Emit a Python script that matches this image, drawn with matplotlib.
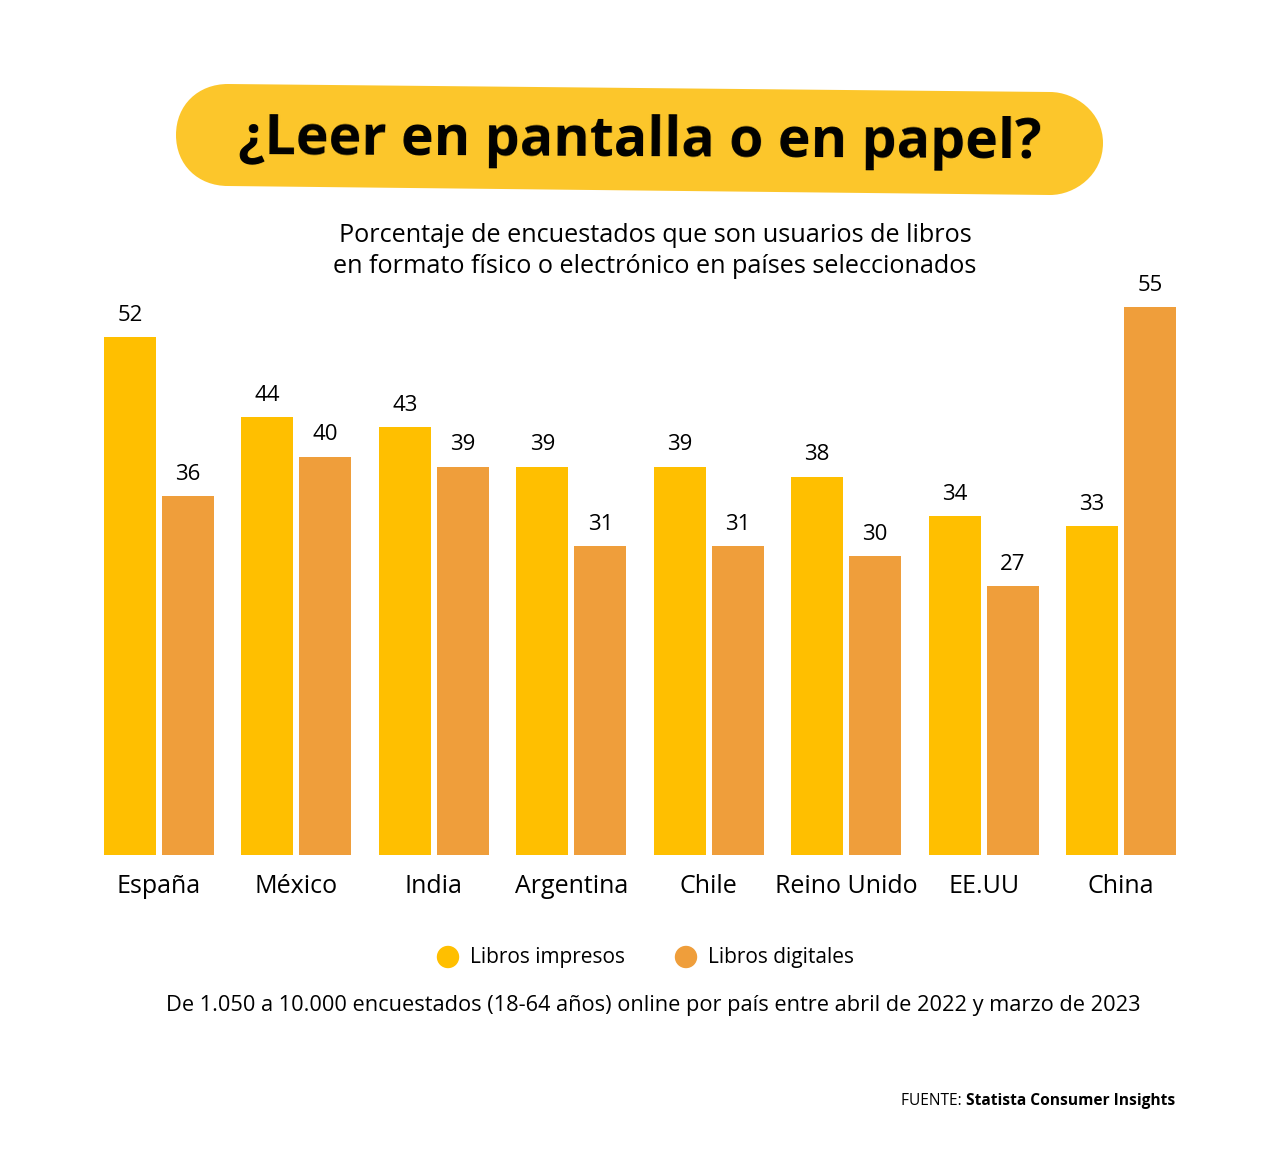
import matplotlib.pyplot as plt
import numpy as np
from matplotlib.patches import PathPatch, Circle
from matplotlib.path import Path

# datos del gráfico
paises = ["España", "México", "India", "Argentina", "Chile", "Reino Unido", "EE.UU", "China"]
impresos = [52, 44, 43, 39, 39, 38, 34, 33]
digitales = [36, 40, 39, 31, 31, 30, 27, 55]

AMARILLO = "#FFBF00"
NARANJA = "#EF9E3B"
PILL = "#FCC62B"
FONT = "Open Sans"

W, H = 1280, 1150
fig = plt.figure(figsize=(W / 100, H / 100), dpi=100)

# capa de fondo en píxeles para decoración y textos
bg = fig.add_axes([0, 0, 1, 1])
bg.set_xlim(0, W)
bg.set_ylim(H, 0)
bg.axis("off")

# píldora del título (ligeramente inclinada), extremos con curvas cúbicas
verts = [
    (228, 84), (1050, 92),
    (1075, 92), (1103, 112), (1103, 143),
    (1103, 175), (1075, 195), (1050, 195),
    (228, 186),
    (198, 186), (176, 165), (176, 135),
    (176, 105), (198, 84), (228, 84),
]
codes = [Path.MOVETO, Path.LINETO,
         Path.CURVE4, Path.CURVE4, Path.CURVE4,
         Path.CURVE4, Path.CURVE4, Path.CURVE4,
         Path.LINETO,
         Path.CURVE4, Path.CURVE4, Path.CURVE4,
         Path.CURVE4, Path.CURVE4, Path.CURVE4]
bg.add_patch(PathPatch(Path(verts, codes), facecolor=PILL, edgecolor="none"))
bg.text(640, 142, "¿Leer en pantalla o en papel?", ha="center", va="center",
        fontsize=40, fontweight="bold", family=FONT, color="black", rotation=-0.3)

bg.text(655, 251, "Porcentaje de encuestados que son usuarios de libros\n"
        "en formato físico o electrónico en países seleccionados",
        ha="center", va="center", fontsize=18.2, family=FONT, linespacing=1.32)

# leyenda
bg.add_patch(Circle((448, 957), 10.5, color=AMARILLO))
bg.text(470, 957, "Libros impresos", ha="left", va="center", fontsize=15, family=FONT)
bg.add_patch(Circle((686, 957), 10.5, color=NARANJA))
bg.text(708, 957, "Libros digitales", ha="left", va="center", fontsize=15, family=FONT)

bg.text(653, 1006, "De 1.050 a 10.000 encuestados (18-64 años) online por país entre abril de 2022 y marzo de 2023",
        ha="center", va="center", fontsize=15.7, family=FONT)

src = bg.text(1175, 1101, "Statista Consumer Insights", ha="right", va="center",
              fontsize=11.2, fontweight="bold", family=FONT)
fig.canvas.draw()
bb = src.get_window_extent()
x0 = bg.transData.inverted().transform((bb.x0, bb.y0))[0]
bg.text(x0, 1101, "FUENTE: ", ha="right", va="center", fontsize=11.2, family=FONT)

# gráfico de barras
px_unit = 9.96
ax_bottom, ax_top = 855, 255
left_px, right_px = 80, 1200
pitch = (1121 - 159) / 7
ax = fig.add_axes([left_px / W, (H - ax_bottom) / H, (right_px - left_px) / W, (ax_bottom - ax_top) / H])
ax.set_xlim((left_px - 159) / pitch, (right_px - 159) / pitch)
ax.set_ylim(0, (ax_bottom - ax_top) / px_unit)
ax.axis("off")

x = np.arange(len(paises))
bw = 52 / pitch
off = 29 / pitch
b1 = ax.bar(x - off, impresos, width=bw, color=AMARILLO)
b2 = ax.bar(x + off, digitales, width=bw, color=NARANJA)
for bars in (b1, b2):
    for r in bars:
        ax.annotate(f"{int(r.get_height())}", (r.get_x() + r.get_width() / 2, r.get_height()),
                    xytext=(0, 8), textcoords="offset points", ha="center", va="bottom",
                    fontsize=16, family=FONT)
for xi, p in zip(x, paises):
    ax.annotate(p, (xi, 0), xytext=(0, -22.5), textcoords="offset points", ha="center",
                va="center", fontsize=18, family=FONT, annotation_clip=False)

fig.savefig("out.png", dpi=100, facecolor="white")
